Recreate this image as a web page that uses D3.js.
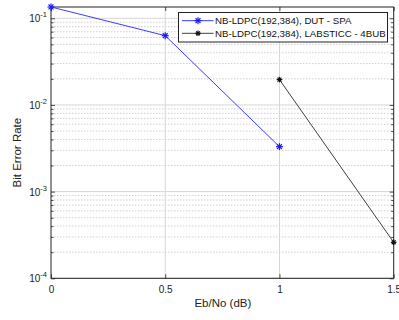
<!DOCTYPE html>
<html>
<head>
<meta charset="utf-8">
<script src="https://cdn.jsdelivr.net/npm/d3@7"></script>
<style>
  body { margin: 0; background: #fff; }
  svg { display: block; font-family: "Liberation Sans", Arial, sans-serif; }
</style>
</head>
<body>
<div id="chart"></div>
<script>
// series
var seriesNames = ['NB-LDPC(192,384), DUT - SPA', 'NB-LDPC(192,384), LABSTICC - 4BUB'];
var dutX = [0, 0.5, 1];
var dutBer = [0.135, 0.063, 0.0033];
var labX = [1, 1.5];
var labBer = [0.0196, 0.00026];
var xTicks = [0, 0.5, 1, 1.5];
var yDecades = [-4, -3, -2, -1];

var W = 399, H = 320
  , m = {top: 7, left: 51, right: 5.3, bottom: 41.7}
  , pw = W - m.left - m.right
  , ph = H - m.top - m.bottom;

var svg = d3.select('#chart').append('svg')
    .attr('width', W).attr('height', H);

var x = d3.scaleLinear().domain([0, 1.5]).range([0, pw]);
var y = d3.scaleLog().domain([1e-4, 0.1349]).range([ph, 0]);

var minorY = [];
yDecades.forEach(function(k){
    for (var i = 2; i <= 9; i++){
        var v = i * Math.pow(10, k);
        if (v <= y.domain()[1]) minorY.push(v);
    }
});
var majorY = yDecades.map(function(k){ return Math.pow(10, k); });

var g = svg.append('g').attr('transform', 'translate(' + [m.left, m.top] + ')');

// grid
var grid = g.append('g').classed('grid', true);
grid.selectAll('line.minor').data(minorY).enter().append('line')
    .attr('x1', 0).attr('x2', pw)
    .attr('y1', function(d){ return y(d); }).attr('y2', function(d){ return y(d); })
    .attr('stroke', '#c4c4c4').attr('stroke-width', 0.8).attr('stroke-dasharray', '1.5,1.5');
grid.selectAll('line.majy').data(majorY).enter().append('line')
    .attr('x1', 0).attr('x2', pw)
    .attr('y1', function(d){ return y(d); }).attr('y2', function(d){ return y(d); })
    .attr('stroke', '#d6d6d6').attr('stroke-width', 1);
grid.selectAll('line.majx').data(xTicks.slice(1, -1)).enter().append('line')
    .attr('y1', 0).attr('y2', ph)
    .attr('x1', function(d){ return x(d); }).attr('x2', function(d){ return x(d); })
    .attr('stroke', '#d6d6d6').attr('stroke-width', 1);

// axes, ticks pointing inwards
var xaxisgen = d3.axisBottom(x).tickValues(xTicks).tickSizeInner(-4).tickSizeOuter(0).tickPadding(8)
    .tickFormat(function(d){ return d3.format('')(d); });
var xaxis = g.append('g').attr('transform', 'translate(' + [0, ph] + ')').call(xaxisgen);
g.append('g').call(d3.axisTop(x).tickValues(xTicks).tickSizeInner(-4).tickSizeOuter(0).tickFormat(''));

var yaxis = g.append('g').call(d3.axisLeft(y).tickValues(majorY).tickSizeInner(-4).tickSizeOuter(0).tickFormat(''));
g.append('g').call(d3.axisLeft(y).tickValues(minorY).tickSizeInner(-2.5).tickSizeOuter(0).tickFormat(''));
g.append('g').attr('transform', 'translate(' + [pw, 0] + ')')
    .call(d3.axisRight(y).tickValues(majorY).tickSizeInner(-4).tickSizeOuter(0).tickFormat(''));
g.append('g').attr('transform', 'translate(' + [pw, 0] + ')')
    .call(d3.axisRight(y).tickValues(minorY).tickSizeInner(-2.5).tickSizeOuter(0).tickFormat(''));

g.selectAll('.domain').remove();
g.selectAll('.tick line').attr('stroke', '#222').attr('stroke-width', 0.8);
xaxis.selectAll('text').attr('font-size', 10).attr('fill', '#222')
    .attr('font-family', '"Liberation Sans", Arial, sans-serif');

// y labels with superscripts
var ylab = g.append('g');
majorY.forEach(function(v, i){
    var t = ylab.append('text')
        .attr('x', -4).attr('y', y(v) + 4)
        .attr('text-anchor', 'end').attr('font-size', 10).attr('fill', '#222');
    t.append('tspan').text('10');
    t.append('tspan').attr('dy', -5).attr('font-size', 7.5).text('-' + (-yDecades[i]));
});

// box
g.append('rect').attr('width', pw).attr('height', ph)
    .attr('fill', 'none').attr('stroke', '#222').attr('stroke-width', 1);

// series
function star(sel, color, r){
    sel.each(function(){
        var s = d3.select(this);
        [[-r, 0, r, 0], [0, -r, 0, r], [-r*0.7, -r*0.7, r*0.7, r*0.7], [-r*0.7, r*0.7, r*0.7, -r*0.7]].forEach(function(l){
            s.append('line').attr('x1', l[0]).attr('y1', l[1]).attr('x2', l[2]).attr('y2', l[3])
                .attr('stroke', color).attr('stroke-width', 1.2);
        });
    });
}

var line = d3.line().x(function(d){ return x(d[0]); }).y(function(d){ return y(d[1]); });
var series = [
    {name: seriesNames[0], color: '#3b3bff', mcol: '#1a1aff', pts: d3.zip(dutX, dutBer), r: 3.5},
    {name: seriesNames[1], color: '#404040', mcol: '#111', pts: d3.zip(labX, labBer), r: 2.8}
];
series.forEach(function(s){
    g.append('path').datum(s.pts).attr('d', line)
        .attr('fill', 'none').attr('stroke', s.color).attr('stroke-width', 1);
    g.append('g').selectAll('g').data(s.pts).enter().append('g')
        .attr('transform', function(d){ return 'translate(' + [x(d[0]), y(d[1])] + ')'; })
        .call(star, s.mcol, s.r);
});

// legend
var lg = svg.append('g').attr('transform', 'translate(' + [178.5, 12.5] + ')');
lg.append('rect').attr('width', 209).attr('height', 29.5)
    .attr('fill', '#fff').attr('stroke', '#222').attr('stroke-width', 1);
series.forEach(function(s, i){
    var row = lg.append('g').attr('transform', 'translate(' + [0, 8.2 + i * 12.6] + ')');
    row.append('line').attr('x1', 3.5).attr('x2', 35).attr('stroke', s.color).attr('stroke-width', 1);
    row.append('g').attr('transform', 'translate(19.5,0)').call(star, s.mcol, s.r);
    row.append('text').attr('x', 36.5).attr('y', 3.5).attr('font-size', 9.7).attr('fill', '#111').text(s.name);
});

// axis titles
svg.append('text').attr('x', m.left + pw / 2 + 0.5).attr('y', 307)
    .attr('text-anchor', 'middle').attr('font-size', 11.5).attr('fill', '#222').text('Eb/No (dB)');
svg.append('text').attr('transform', 'translate(21,' + (m.top + ph / 2 + 10) + ') rotate(-90)')
    .attr('text-anchor', 'middle').attr('font-size', 11.5).attr('fill', '#222').text('Bit Error Rate');
</script>
</body>
</html>
